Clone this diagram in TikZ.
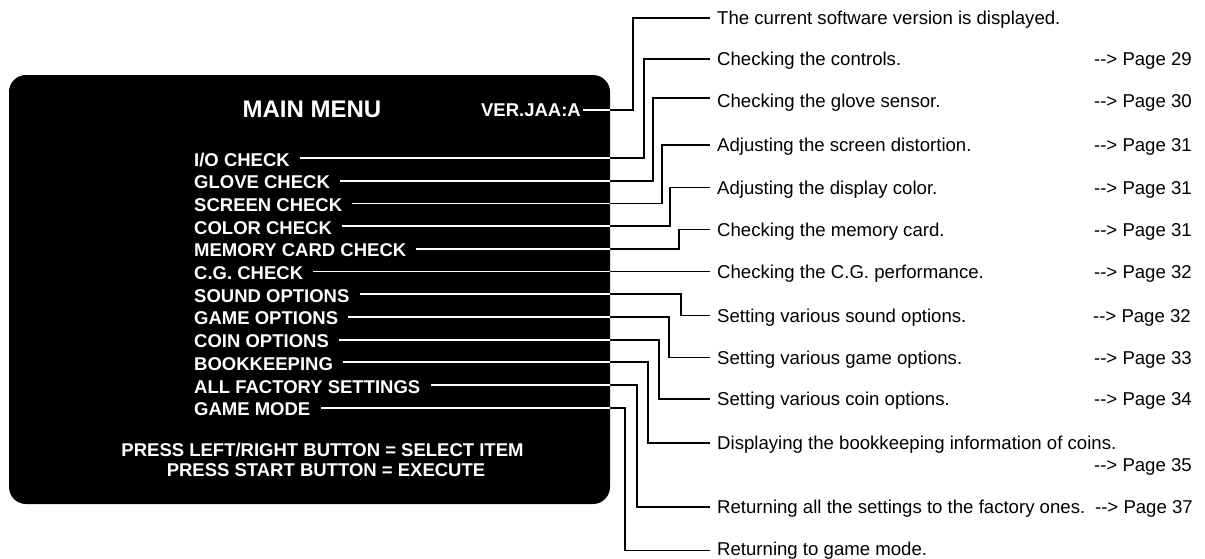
\documentclass[tikz,border=0pt]{standalone}
\usepackage{fontspec}
\setmainfont{Liberation Sans}
\newcommand\pg[1]{\mbox{-}\mbox{-}> Page #1}
\begin{document}
\begin{tikzpicture}[x=1pt,y=-1pt,
  menu/.style={font=\bfseries\fontsize{18.5}{20}\selectfont, text=white,
    inner sep=0pt, text height=16pt, text depth=0pt, anchor=west},
  desc/.style={font=\fontsize{18.6}{20}\selectfont, inner xsep=7pt,
    inner ysep=0pt, text height=13.3pt, text depth=0pt, anchor=west},
  pageref/.style={font=\fontsize{18.6}{20}\selectfont, inner sep=0pt,
    text height=13.3pt, text depth=0pt, anchor=east},
  wire/.style={line width=1.8pt}]
\useasboundingbox (0,0) rectangle (1205,558);

% the monitor screen
\path[fill=black, rounded corners=17pt] (9,75) rectangle (610,504);
\node[font=\bfseries\fontsize{24}{26}\selectfont, text=white, inner sep=0pt,
  anchor=base] (title) at (312,117.3) {MAIN MENU};
\node[font=\bfseries\fontsize{18.5}{20}\selectfont, text=white, inner sep=0pt,
  text height=13.3pt, text depth=0pt, anchor=east] (ver) at (581,110) {VER.JAA:A};

\node[menu] (m-io)      at (194,158.0) {I/O CHECK};
\node[menu] (m-glove)   at (194,180.7) {GLOVE CHECK};
\node[menu] (m-screen)  at (194,203.4) {SCREEN CHECK};
\node[menu] (m-color)   at (194,226.1) {COLOR CHECK};
\node[menu] (m-memory)  at (194,248.8) {MEMORY CARD CHECK};
\node[menu] (m-cg)      at (194,271.5) {C.G. CHECK};
\node[menu] (m-sound)   at (194,294.2) {SOUND OPTIONS};
\node[menu] (m-gameopt) at (194,316.9) {GAME OPTIONS};
\node[menu] (m-coin)    at (194,339.6) {COIN OPTIONS};
\node[menu] (m-book)    at (194,362.3) {BOOKKEEPING};
\node[menu] (m-all)     at (194,385.0) {ALL FACTORY SETTINGS};
\node[menu] (m-mode)    at (194,407.7) {GAME MODE};

\node[font=\bfseries\fontsize{18.5}{20}\selectfont, text=white, inner sep=0pt,
  anchor=base] (press1) at (322.5,456) {PRESS LEFT/RIGHT BUTTON = SELECT ITEM};
\node[font=\bfseries\fontsize{18.5}{20}\selectfont, text=white, inner sep=0pt,
  anchor=base] (press2) at (326,476.7) {PRESS START BUTTON = EXECUTE};

% descriptions
\node[desc] (d-ver)     at (710,18)    {The current software version is displayed.};
\node[desc] (d-io)      at (710,59)    {Checking the controls.};
\node[desc] (d-glove)   at (710,101)   {Checking the glove sensor.};
\node[desc] (d-screen)  at (710,145)   {Adjusting the screen distortion.};
\node[desc] (d-color)   at (710,187.5) {Adjusting the display color.};
\node[desc] (d-memory)  at (710,229.5) {Checking the memory card.};
\node[desc] (d-cg)      at (710,271.5) {Checking the C.G. performance.};
\node[desc] (d-sound)   at (710,315.5) {Setting various sound options.};
\node[desc] (d-gameopt) at (710,357.5) {Setting various game options.};
\node[desc] (d-coin)    at (710,399)   {Setting various coin options.};
\node[desc] (d-book)    at (710,443)   {Displaying the bookkeeping information of coins.};
\node[desc] (d-all)     at (710,507)   {Returning all the settings to the factory ones.};
\node[desc] (d-mode)    at (710,548.5) {Returning to game mode.};

% page references
\node[pageref] (p-io)      at (1192,59)    {\pg{29}};
\node[pageref] (p-glove)   at (1192,101)   {\pg{30}};
\node[pageref] (p-screen)  at (1192,145)   {\pg{31}};
\node[pageref] (p-color)   at (1192,187.5) {\pg{31}};
\node[pageref] (p-memory)  at (1192,229.5) {\pg{31}};
\node[pageref] (p-cg)      at (1192,271.5) {\pg{32}};
\node[pageref] (p-sound)   at (1191,315.5) {\pg{32}};
\node[pageref] (p-gameopt) at (1192,357.5) {\pg{33}};
\node[pageref] (p-coin)    at (1192,399)   {\pg{34}};
\node[pageref] (p-book)    at (1192,465)   {\pg{35}};
\node[pageref] (p-all)     at (1193,507)   {\pg{37}};

% x positions of the vertical runs
\foreach \n/\xv in {ver/633, io/644, glove/653, screen/662, color/670,
  memory/679, cg/690, sound/681, gameopt/669, coin/659, book/648, all/637, mode/625}
  \coordinate (v-\n) at (\xv,0);

\newcommand\drawwires{%
  \draw[wire] ([xshift=2pt]ver.east) -| (d-ver.west -| v-ver) -- (d-ver.west);
  \foreach \n/\dy in {io/0, glove/3, screen/0, color/0, memory/0, cg/0,
    sound/0, gameopt/0, coin/0, book/0, all/0, mode/-2}
    \draw[wire] ([xshift=10pt]m-\n.east)
      -| ([yshift=\dy pt]d-\n.west -| v-\n) -- ([yshift=\dy pt]d-\n.west);
}

% leader lines: black outside the screen, white on it
\drawwires
\begin{scope}
  \clip[rounded corners=17pt] (9,75) rectangle (610,504);
  \tikzset{wire/.append style={white}}
  \drawwires
\end{scope}
\end{tikzpicture}
\end{document}
